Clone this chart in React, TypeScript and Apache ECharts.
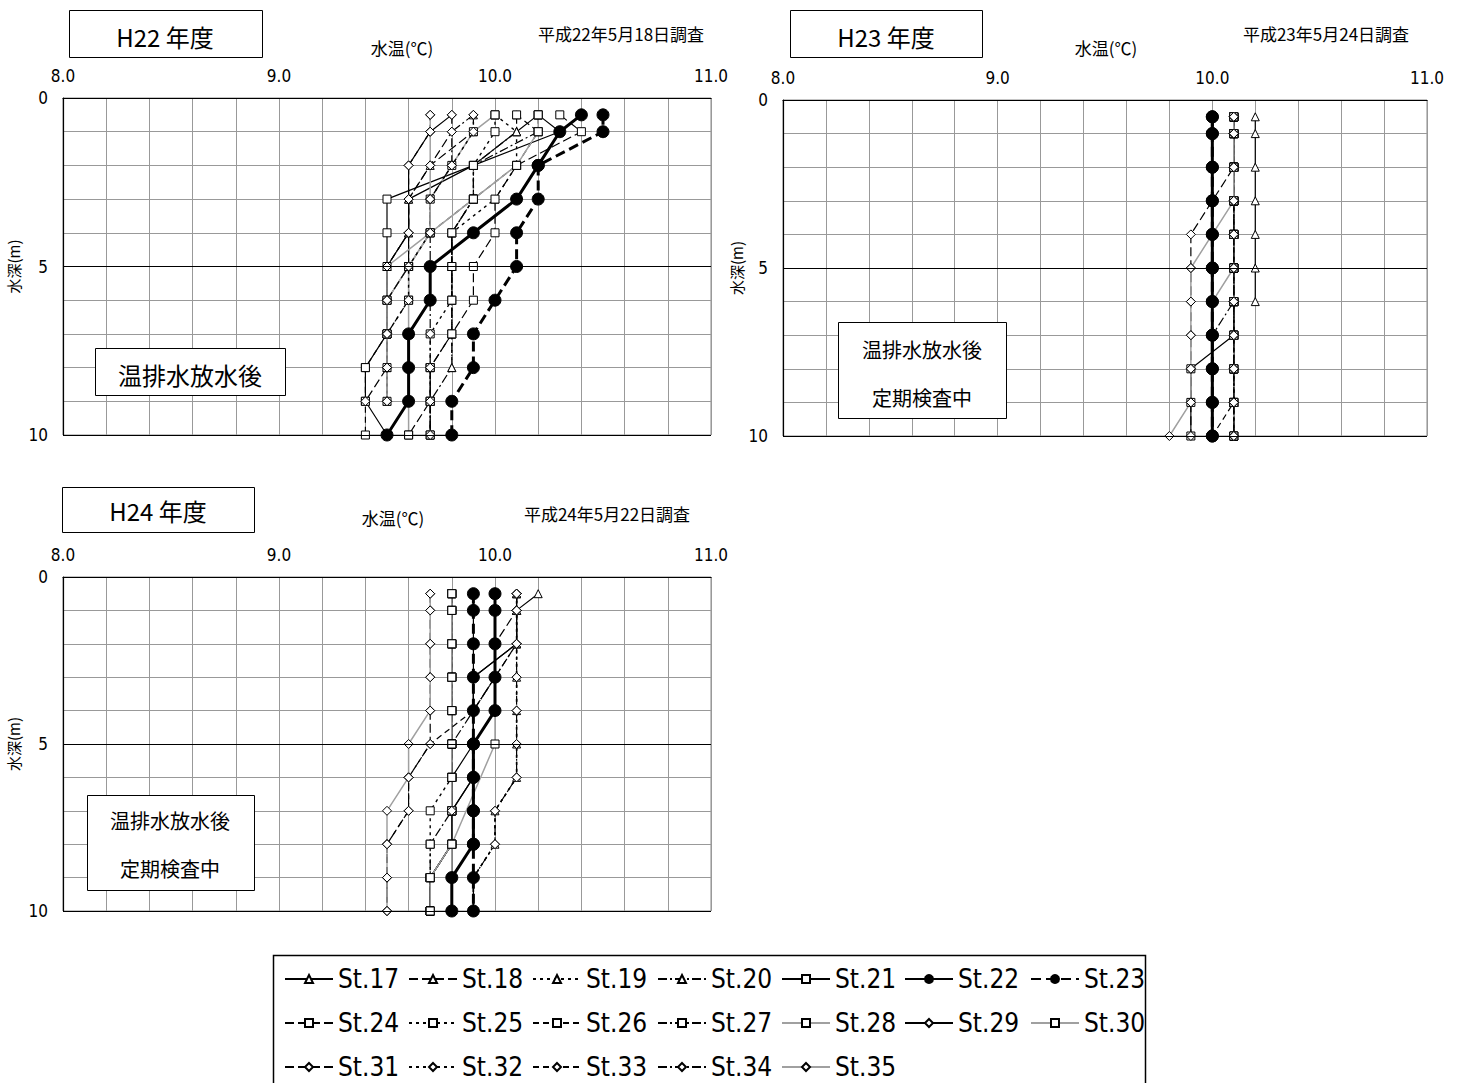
import React, { useEffect, useRef } from "react";
import * as echarts from "echarts";

const DEPTHS = [0.5, 1, 2, 3, 4, 5, 6, 7, 8, 9, 10];
const STATIONS = [
  "St.17", "St.18", "St.19", "St.20", "St.21", "St.22", "St.23", "St.24", "St.25", "St.26",
  "St.27", "St.28", "St.29", "St.30", "St.31", "St.32", "St.33", "St.34", "St.35",
];
const X_TICKS = [8.0, 9.0, 10.0, 11.0];
const Y_TICKS = [0, 5, 10];

// H22 (平成22年5月18日調査) water temperature per depth
const H22_ST17 = [10.2, 10.1, 9.9, 9.6, 9.6, 9.5, 9.5, 9.5, 9.5, 9.5, null];
const H22_ST18 = [9.9, 9.9, 9.7, 9.6, 9.6, 9.5, 9.5, 9.5, null, null, null];
const H22_ST19 = [10.0, 10.1, 10.1, 10.0, 9.8, 9.8, 9.8, 9.8, 9.8, null, null];
const H22_ST20 = [10.1, 10.1, 9.9, 9.9, 9.8, 9.8, 9.8, 9.8, 9.8, 9.7, 9.7];
const H22_ST21 = [10.2, 10.3, 9.9, 9.5, 9.5, 9.5, 9.5, 9.5, 9.4, 9.4, 9.5];
const H22_ST22 = [10.4, 10.3, 10.2, 10.1, 9.9, 9.7, 9.7, 9.6, 9.6, 9.6, 9.5];
const H22_ST23 = [10.5, 10.5, 10.2, 10.2, 10.1, 10.1, 10.0, 9.9, 9.9, 9.8, 9.8];
const H22_ST24 = [10.3, 10.4, 10.1, 10.0, 10.0, 9.9, 9.9, 9.8, 9.7, 9.7, 9.6];
const H22_ST25 = [10.0, 10.0, 9.9, 9.9, 9.8, 9.8, 9.8, 9.7, 9.7, 9.7, 9.7];
const H22_ST26 = [10.1, 10.2, 10.1, 9.9, 9.7, 9.6, 9.6, 9.5, 9.4, 9.4, 9.4];
const H22_ST27 = [10.2, 10.2, 9.9, 9.9, 9.8, 9.8, 9.8, 9.8, 9.7, 9.7, 9.7];
const H22_ST28 = [10.2, 10.2, 10.1, 9.9, 9.7, 9.6, 9.6, 9.6, 9.6, 9.6, 9.6];
const H22_ST29 = [9.8, 9.7, 9.6, 9.6, 9.6, 9.6, 9.5, 9.5, 9.5, 9.5, null];
const H22_ST30 = [10.0, 9.9, 9.8, 9.7, 9.7, 9.6, 9.5, 9.5, 9.5, 9.5, null];
const H22_ST31 = [9.8, 9.8, 9.7, 9.6, 9.6, 9.6, 9.5, 9.5, 9.5, 9.4, null];
const H22_ST32 = [9.9, 9.9, 9.8, 9.7, 9.7, 9.6, 9.6, 9.5, 9.5, 9.5, null];
const H22_ST33 = [9.7, 9.7, 9.6, 9.6, 9.6, 9.5, 9.5, 9.5, null, null, null];
const H22_ST34 = [9.9, 9.8, 9.8, 9.7, 9.7, 9.7, 9.7, 9.7, 9.7, 9.7, 9.7];
const H22_ST35 = [9.7, 9.7, 9.7, 9.7, 9.7, 9.5, 9.5, 9.5, 9.5, 9.5, null];

// H23 (平成23年5月24日調査)
const H23_ST17 = [10.2, 10.2, 10.2, 10.2, 10.2, 10.2, 10.2, null, null, null, null];
const H23_ST18 = [10.1, 10.1, 10.1, 10.1, 10.1, 10.1, 10.1, 10.1, 10.1, 10.1, 10.1];
const H23_ST19 = [10.1, 10.1, 10.1, 10.1, 10.1, 10.1, 10.1, 10.1, 10.1, 10.1, 10.1];
const H23_ST20 = [10.1, 10.1, 10.1, 10.1, 10.1, 10.1, 10.1, 10.1, 10.1, 10.1, 10.1];
const H23_ST21 = [10.1, 10.1, 10.1, 10.1, 10.1, 10.1, 10.1, 10.1, 9.9, 9.9, 9.9];
const H23_ST22 = [10.0, 10.0, 10.0, 10.0, 10.0, 10.0, 10.0, 10.0, 10.0, 10.0, 10.0];
const H23_ST23 = [10.0, 10.0, 10.0, 10.0, 10.0, 10.0, 10.0, 10.0, 10.0, 10.0, 10.0];
const H23_ST24 = [10.1, 10.1, 10.1, 10.1, 10.1, 10.1, 10.1, 10.1, 10.1, 10.1, 10.1];
const H23_ST25 = [10.1, 10.1, 10.1, 10.1, 10.1, 10.1, 10.1, 10.1, 10.1, 10.1, 10.1];
const H23_ST26 = [10.1, 10.1, 10.1, 10.1, 10.1, 10.1, 10.1, 10.1, 10.1, 10.1, 10.0];
const H23_ST27 = [10.1, 10.1, 10.1, 10.1, 10.1, 10.1, 10.1, 10.0, 10.0, 10.0, 10.0];
const H23_ST28 = [10.1, 10.1, 10.1, 10.1, 10.1, 10.1, 10.0, 10.0, 10.0, 10.0, 10.0];
const H23_ST29 = [10.1, 10.1, 10.1, 10.1, 10.1, 10.1, 10.1, 10.1, 10.1, 10.1, 10.1];
const H23_ST30 = [10.1, 10.1, 10.1, 10.1, 10.1, 10.1, 10.1, 10.1, 10.1, 10.1, 10.1];
const H23_ST31 = [10.1, 10.1, 10.1, 10.0, 9.9, 9.9, 9.9, 9.9, 9.9, 9.9, 9.9];
const H23_ST32 = [10.1, 10.1, 10.1, 10.1, 10.1, 10.1, 10.1, 10.1, 10.1, 10.1, 10.1];
const H23_ST33 = [10.1, 10.1, 10.1, 10.1, 10.1, 10.1, 10.1, 10.1, 10.1, 10.1, 10.1];
const H23_ST34 = [10.1, 10.1, 10.1, 10.1, 10.1, 10.1, 10.1, 10.1, 10.1, 10.1, 10.1];
const H23_ST35 = [10.1, 10.1, 10.1, 10.1, 10.0, 9.9, 9.9, 9.9, 9.9, 9.9, 9.8];

// H24 (平成24年5月22日調査)
const H24_ST17 = [10.2, 10.1, 10.1, 9.9, 9.9, 9.9, 9.9, 9.8, 9.8, 9.7, 9.7];
const H24_ST18 = [10.1, 10.1, 10.0, 10.0, 9.9, 9.9, 9.9, 9.9, 9.9, 9.8, 9.8];
const H24_ST19 = [10.1, 10.1, 10.1, 10.1, 10.1, 10.1, 10.1, 10.0, 10.0, 9.9, 9.9];
const H24_ST20 = [10.1, 10.1, 10.1, 10.0, 9.9, 9.8, 9.8, 9.8, 9.8, 9.7, 9.7];
const H24_ST21 = [9.9, 9.9, 9.9, 9.9, 9.9, 9.9, 9.8, 9.8, 9.8, 9.7, 9.7];
const H24_ST22 = [10.0, 10.0, 10.0, 10.0, 10.0, 9.9, 9.9, 9.9, 9.9, 9.8, 9.8];
const H24_ST23 = [9.9, 9.9, 9.9, 9.9, 9.9, 9.9, 9.9, 9.9, 9.9, 9.9, 9.9];
const H24_ST24 = [9.8, 9.8, 9.8, 9.8, 9.8, 9.8, 9.8, 9.8, 9.8, 9.7, 9.7];
const H24_ST25 = [9.8, 9.8, 9.8, 9.8, 9.8, 9.8, 9.8, 9.7, 9.7, 9.7, 9.7];
const H24_ST26 = [9.8, 9.8, 9.8, 9.8, 9.8, 9.8, 9.8, 9.8, 9.8, 9.7, 9.7];
const H24_ST27 = [9.8, 9.8, 9.8, 9.8, 9.8, 9.8, 9.8, 9.8, 9.7, 9.7, 9.7];
const H24_ST28 = [9.8, 9.8, 9.8, 9.8, 9.8, 9.8, 9.8, 9.8, 9.8, 9.7, 9.7];
const H24_ST29 = [10.1, 10.1, 10.1, 9.9, 9.9, 9.9, 9.9, 9.8, 9.8, 9.8, 9.8];
const H24_ST30 = [10.0, 10.0, 10.0, 10.0, 10.0, 10.0, null, null, 9.8, 9.8, 9.8];
const H24_ST31 = [9.7, 9.7, 9.7, 9.7, 9.7, 9.7, 9.6, 9.6, 9.5, 9.5, 9.5];
const H24_ST32 = [10.1, 10.1, 10.1, 10.1, 10.1, 10.1, 10.1, 10.0, 10.0, 9.9, 9.9];
const H24_ST33 = [10.1, 10.1, 10.1, 10.0, 9.9, 9.7, 9.6, 9.6, 9.5, 9.5, 9.5];
const H24_ST34 = [10.1, 10.1, 10.1, 10.1, 10.1, 10.1, 10.1, 10.0, 10.0, 9.9, 9.9];
const H24_ST35 = [9.7, 9.7, 9.7, 9.7, 9.7, 9.6, 9.6, 9.5, 9.5, 9.5, 9.5];

const H22_ROWS = [H22_ST17, H22_ST18, H22_ST19, H22_ST20, H22_ST21, H22_ST22, H22_ST23, H22_ST24, H22_ST25, H22_ST26, H22_ST27, H22_ST28, H22_ST29, H22_ST30, H22_ST31, H22_ST32, H22_ST33, H22_ST34, H22_ST35];
const H23_ROWS = [H23_ST17, H23_ST18, H23_ST19, H23_ST20, H23_ST21, H23_ST22, H23_ST23, H23_ST24, H23_ST25, H23_ST26, H23_ST27, H23_ST28, H23_ST29, H23_ST30, H23_ST31, H23_ST32, H23_ST33, H23_ST34, H23_ST35];
const H24_ROWS = [H24_ST17, H24_ST18, H24_ST19, H24_ST20, H24_ST21, H24_ST22, H24_ST23, H24_ST24, H24_ST25, H24_ST26, H24_ST27, H24_ST28, H24_ST29, H24_ST30, H24_ST31, H24_ST32, H24_ST33, H24_ST34, H24_ST35];

const TITLES = ["H22 年度", "H23 年度", "H24 年度"];
const DATES = ["平成22年5月18日調査", "平成23年5月24日調査", "平成24年5月22日調査"];

const BLACK = "#000";
const GRAY = "#a0a0a0";
const DASH: any = [9, 4];
const DOT: any = [3, 4];
const SDASH: any = [6, 4];
const DASHDOT: any = [9, 3, 2, 3];

const STYLES = [
  { symbol: "triangle", dash: "solid", color: BLACK, width: 1.2, size: 8, filled: false },
  { symbol: "triangle", dash: DASH, color: BLACK, width: 1.2, size: 8, filled: false },
  { symbol: "triangle", dash: DOT, color: BLACK, width: 1.4, size: 8, filled: false },
  { symbol: "triangle", dash: DASHDOT, color: BLACK, width: 1.2, size: 8, filled: false },
  { symbol: "rect", dash: "solid", color: BLACK, width: 1.2, size: 8, filled: false },
  { symbol: "circle", dash: "solid", color: BLACK, width: 3, size: 12, filled: true },
  { symbol: "circle", dash: [10, 5], color: BLACK, width: 3, size: 12, filled: true },
  { symbol: "rect", dash: DASH, color: BLACK, width: 1.2, size: 8, filled: false },
  { symbol: "rect", dash: DOT, color: BLACK, width: 1.4, size: 8, filled: false },
  { symbol: "rect", dash: SDASH, color: BLACK, width: 1.2, size: 8, filled: false },
  { symbol: "rect", dash: DASHDOT, color: BLACK, width: 1.2, size: 8, filled: false },
  { symbol: "rect", dash: "solid", color: GRAY, width: 1.5, size: 8, filled: false },
  { symbol: "diamond", dash: "solid", color: BLACK, width: 1.2, size: 9, filled: false },
  { symbol: "rect", dash: "solid", color: GRAY, width: 1.5, size: 8, filled: false },
  { symbol: "diamond", dash: DASH, color: BLACK, width: 1.2, size: 9, filled: false },
  { symbol: "diamond", dash: DOT, color: BLACK, width: 1.4, size: 9, filled: false },
  { symbol: "diamond", dash: SDASH, color: BLACK, width: 1.2, size: 9, filled: false },
  { symbol: "diamond", dash: DASHDOT, color: BLACK, width: 1.2, size: 9, filled: false },
  { symbol: "diamond", dash: "solid", color: GRAY, width: 1.5, size: 9, filled: false },
];

const GRIDS = [
  { left: 63, top: 98, width: 648, height: 337 },
  { left: 783, top: 100, width: 644, height: 336 },
  { left: 63, top: 577, width: 648, height: 334 },
];
const NAME_GAPS = [42, 39, 42];

const NARROW = "'Liberation Sans Narrow', 'DejaVu Sans Condensed', 'Arial Narrow', 'Liberation Sans', sans-serif";
const CJK = "'Noto Sans CJK JP', 'Noto Sans', sans-serif";

function buildOption() {
  const rowsByChart = [H22_ROWS, H23_ROWS, H24_ROWS];
  const series: any[] = [];
  rowsByChart.forEach((rows, gi) => {
    rows.forEach((vals, si) => {
      const st = STYLES[si];
      const data = DEPTHS.map((d, k) => (vals[k] == null ? null : [vals[k], d])).filter((p) => p !== null);
      const s: any = {
        type: "line",
        name: STATIONS[si],
        xAxisIndex: gi,
        yAxisIndex: gi,
        data,
        symbol: st.symbol,
        symbolSize: st.size,
        showSymbol: true,
        showAllSymbol: true,
        z: st.filled ? 4 : 3,
        lineStyle: { color: st.color, width: st.width, type: st.dash },
        itemStyle: { color: st.filled ? BLACK : "#fff", borderColor: BLACK, borderWidth: 1 },
        emphasis: { disabled: true },
      };
      if (si === 0) {
        s.markLine = {
          silent: true,
          symbol: "none",
          label: { show: false },
          lineStyle: { color: BLACK, type: "solid", width: 1.2 },
          data: [{ yAxis: 5 }, { yAxis: 10 }],
        };
      }
      series.push(s);
    });
  });

  const xAxis = GRIDS.map((_, i) => ({
    type: "value",
    gridIndex: i,
    position: "top",
    min: 8,
    max: 11,
    interval: 0.2,
    axisLine: { show: true, onZero: false, lineStyle: { color: BLACK, width: 1.2 } },
    axisTick: { show: false },
    axisLabel: {
      margin: 14,
      fontSize: 17,
      color: BLACK,
      fontFamily: NARROW,
      formatter: (v: number) => (X_TICKS.some((t) => Math.abs(t - v) < 1e-6) ? v.toFixed(1) : ""),
    },
    splitLine: { show: true, lineStyle: { color: "#999", width: 1 } },
  }));

  const yAxis = GRIDS.map((_, i) => ({
    type: "value",
    gridIndex: i,
    inverse: true,
    min: 0,
    max: 10,
    interval: 1,
    name: "水深(m)",
    nameLocation: "middle",
    nameRotate: 90,
    nameGap: NAME_GAPS[i],
    nameTextStyle: { fontSize: 15, color: BLACK, fontFamily: CJK },
    axisLine: { show: true, onZero: false, lineStyle: { color: BLACK, width: 1.2 } },
    axisTick: { show: false },
    axisLabel: {
      margin: 15,
      fontSize: 17,
      color: BLACK,
      fontFamily: NARROW,
      formatter: (v: number) => (Y_TICKS.some((t) => Math.abs(t - v) < 1e-6) ? String(Math.round(v)) : ""),
    },
    splitLine: { show: true, lineStyle: { color: "#999", width: 1 } },
  }));

  const grid = GRIDS.map((g) => ({ ...g, show: true, borderColor: "#888", borderWidth: 1, backgroundColor: "#fff" }));

  // legend: 7 vertical columns
  const textStarts = [337, 461, 585, 710, 834, 957, 1083];
  const itemW = 48;
  const legend = textStarts.map((tx, c) => {
    const names: string[] = [];
    for (let r = 0; r < 3; r++) {
      const idx = r * 7 + c;
      if (idx < STATIONS.length) names.push(STATIONS[idx]);
    }
    return {
      orient: "vertical",
      left: tx - 5 - itemW,
      top: 964,
      padding: 0,
      itemWidth: itemW,
      itemHeight: 10,
      itemGap: 14,
      selectedMode: false,
      textStyle: { fontSize: 26, lineHeight: 30, color: BLACK, fontFamily: NARROW },
      data: names,
    };
  });

  const boxRect = (x: number, y: number, w: number, h: number) => ({
    type: "rect",
    z: 100,
    shape: { x: x + 0.5, y: y + 0.5, width: w, height: h },
    style: { fill: "#fff", stroke: BLACK, lineWidth: 1 },
  });
  const txt = (text: string, x: number, y: number, size: number, font = CJK) => ({
    type: "text",
    z: 101,
    style: { text, x, y, fill: BLACK, fontSize: size, fontFamily: font, align: "center", verticalAlign: "middle" },
  });

  const graphic: any[] = [
    // title boxes
    boxRect(69, 10, 193, 47), txt(TITLES[0], 165, 36, 24),
    boxRect(790, 10, 192, 47), txt(TITLES[1], 886, 36, 24),
    boxRect(62, 487, 192, 45), txt(TITLES[2], 158, 510, 24),
    // survey dates
    txt(DATES[0], 621, 33, 17), txt(DATES[1], 1326, 33, 17), txt(DATES[2], 607, 513, 17),
    // x axis names
    txt("水温(℃)", 402, 47, 17), txt("水温(℃)", 1106, 47, 17), txt("水温(℃)", 393, 517, 17),
    // annotation boxes
    boxRect(95, 348, 190, 47), txt("温排水放水後", 190, 374, 24),
    boxRect(838, 322, 168, 96), txt("温排水放水後", 922, 349, 20), txt("定期検査中", 922, 397, 20),
    boxRect(87, 795, 167, 95), txt("温排水放水後", 170, 820, 20), txt("定期検査中", 170, 868, 20),
    // legend frame
    {
      type: "rect",
      z: 0,
      shape: { x: 273.5, y: 955.5, width: 872, height: 140 },
      style: { fill: "#fff", stroke: BLACK, lineWidth: 1.5 },
    },
  ];

  return {
    animation: false,
    backgroundColor: "#fff",
    grid,
    xAxis,
    yAxis,
    legend,
    graphic,
    series,
  };
}

export default function App() {
  const ref = useRef<HTMLDivElement>(null);
  useEffect(() => {
    if (!ref.current) return;
    const chart = echarts.init(ref.current, undefined, { renderer: "svg" });
    chart.setOption(buildOption() as any);
    return () => chart.dispose();
  }, []);
  return (
    <div
      ref={ref}
      style={{ position: "absolute", left: 0, top: 0, width: 1461, height: 1083, background: "#fff" }}
    />
  );
}
